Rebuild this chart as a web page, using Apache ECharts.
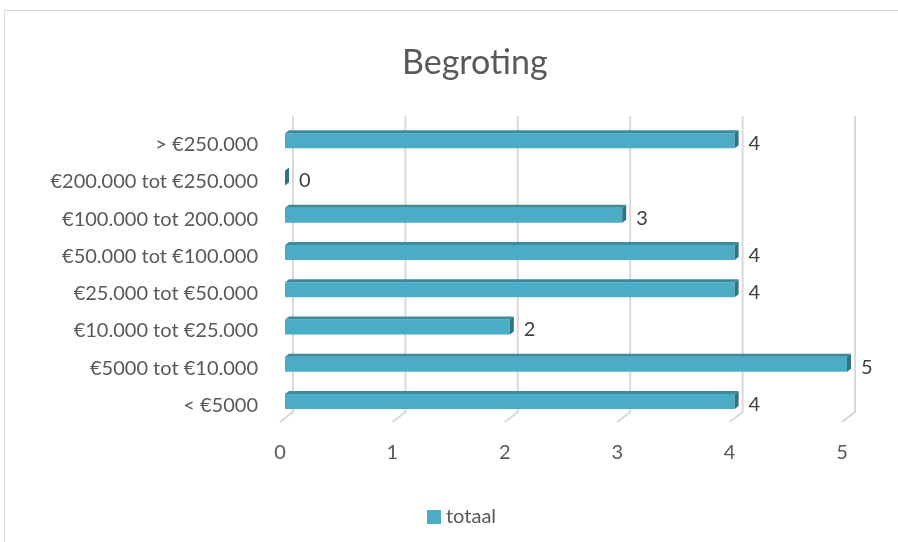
<!DOCTYPE html>
<html>
<head>
<meta charset="utf-8">
<script src="https://cdn.jsdelivr.net/npm/echarts@6/dist/echarts.min.js"></script>
<style>
  html, body { margin: 0; padding: 0; background: #fff; }
  #main { width: 898px; height: 542px; }
</style>
</head>
<body>
<div id="main"></div>
<script>
var categories = ['< €5000', '€5000 tot €10.000', '€10.000 tot €25.000', '€25.000 tot €50.000',
  '€50.000 tot €100.000', '€100.000 tot 200.000', '€200.000 tot €250.000', '> €250.000'];
var totaal = [4, 5, 2, 4, 4, 3, 0, 4];
var ticks = [0, 1, 2, 3, 4, 5];

var barData = totaal.map(function (v, i) { return [v, i]; });
var tickData = ticks.map(function (t) { return [t, 0]; });

// vertical gridlines with the 3D back wall and floor
function renderGrid(params, api) {
  var cs = params.coordSys;
  var px = api.coord([api.value(0), 0])[0];
  var bottom = cs.y + cs.height;
  return {
    type: 'polyline',
    shape: { points: [[px + 13, cs.y - 10], [px + 13, bottom - 12], [px, bottom - 2]] },
    style: { stroke: '#d9d9d9', lineWidth: 2, fill: null }
  };
}

// 3D looking bar: front, top and right side
function renderBar(params, api) {
  var p0 = api.coord([0, api.value(1)]);
  var p1 = api.coord([api.value(0), api.value(1)]);
  var cy = p0[1] - 4, h = 15;
  var x0 = p0[0] + 5, x1 = p1[0] + 5;
  var top = cy - h / 2, bot = cy + h / 2;
  var children = [];
  if (x1 > x0) {
    children.push({ type: 'rect', shape: { x: x0, y: top, width: x1 - x0, height: h },
      style: { fill: '#4bacc6' } });
    children.push({ type: 'polygon', shape: { points: [[x0, top], [x1, top], [x1 + 4, top - 3], [x0 + 4, top - 3]] },
      style: { fill: '#3d8a9c' } });
  }
  children.push({ type: 'polygon', shape: { points: [[x1, top], [x1 + 4, top - 3], [x1 + 4, bot - 3], [x1, bot]] },
    style: { fill: '#2f7385' } });
  children.push({ type: 'text', style: { text: String(api.value(0)), x: x1 + 14, y: cy + 3,
    verticalAlign: 'middle', fill: '#404040', font: '20px Lato' } });
  return { type: 'group', children: children };
}

var chart = echarts.init(document.getElementById('main'));
chart.setOption({
  animation: false,
  textStyle: { fontFamily: 'Lato' },
  graphic: [{ type: 'rect', shape: { x: 4.5, y: 10.5, width: 1000, height: 1000 },
    style: { fill: null, stroke: '#d9d9d9', lineWidth: 1 }, z: -10 }],
  title: {
    text: 'Begroting', left: 397, top: 41,
    textStyle: { fontSize: 34, fontWeight: 'normal', color: '#595959', fontFamily: 'Lato' }
  },
  legend: {
    left: 422, top: 502, icon: 'rect', itemWidth: 14, itemHeight: 14, itemGap: 5,
    textStyle: { fontSize: 20, color: '#595959', fontFamily: 'Lato' },
    data: ['totaal']
  },
  grid: { left: 280, right: 56, top: 126, bottom: 118 },
  xAxis: {
    type: 'value', min: 0, max: 5, interval: 1,
    axisLine: { show: false }, axisTick: { show: false }, splitLine: { show: false },
    axisLabel: { fontSize: 20, color: '#595959', margin: 19, fontFamily: 'Lato' }
  },
  yAxis: {
    type: 'category', data: categories,
    axisLine: { show: false }, axisTick: { show: false },
    axisLabel: { fontSize: 20, color: '#595959', margin: 22, fontFamily: 'Lato' }
  },
  series: [
    { type: 'custom', renderItem: renderGrid, data: tickData, silent: true, z: 1 },
    { name: 'totaal', type: 'custom', renderItem: renderBar, data: barData,
      encode: { x: 0, y: 1 }, itemStyle: { color: '#4bacc6' }, z: 2 }
  ]
});
</script>
</body>
</html>
